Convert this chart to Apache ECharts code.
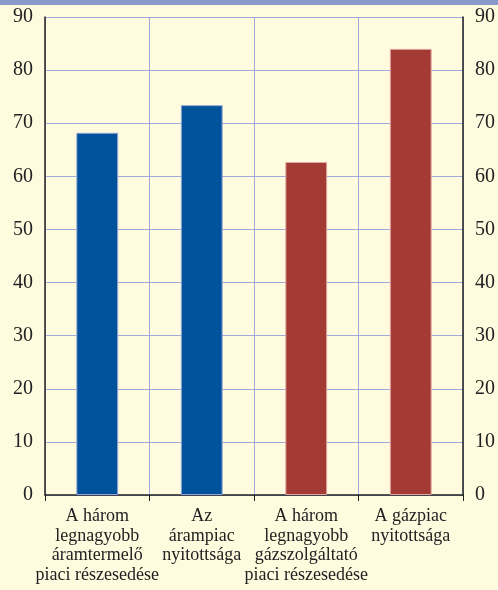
<!DOCTYPE html>
<html>
	<head>
		<meta charset="utf-8" />
		<title>Piaci részesedés és piacnyitás</title>
		<script src="https://cdn.jsdelivr.net/npm/echarts@6/dist/echarts.min.js"></script>
		<style>
			* {
				margin: 0;
				padding: 0;
				box-sizing: border-box;
			}
			body {
				background: #fffbdf;
			}
		</style>
	</head>
	<body>
		<div id="main" style="width: 498px; height: 590px"></div>
		<script>
			// adatok
			var categories = [
				'A három\nlegnagyobb\náramtermelő\npiaci részesedése',
				'Az\nárampiac\nnyitottsága',
				'A három\nlegnagyobb\ngázszolgáltató\npiaci részesedése',
				'A gázpiac\nnyitottsága',
			];
			var values = [68.2, 73.4, 62.7, 84.0];
			var barColors = ['#00529b', '#00529b', '#a33a33', '#a33a33'];
			var barBorders = ['#8fa6d6', '#8fa6d6', '#e0a8a0', '#e0a8a0'];

			var myChart = echarts.init(document.getElementById('main'));
			var font = 'Liberation Serif';
			var gridColor = '#9fa9da';

			var yAxisBase = {
				type: 'value',
				min: 0,
				max: 90,
				interval: 10,
				axisLine: {show: true, lineStyle: {color: '#222', width: 1.5}},
				axisTick: {show: false},
				axisLabel: {fontFamily: font, fontSize: 20, color: '#222', margin: 12},
				splitLine: {show: true, lineStyle: {color: gridColor, width: 1}},
			};

			var option = {
				backgroundColor: '#fffbdf',
				graphic: [
					{type: 'rect', shape: {x: 0, y: 0, width: 498, height: 5}, style: {fill: '#8a9bcb'}},
				],
				grid: {left: 45, right: 35, top: 17, bottom: 95},
				xAxis: {
					type: 'category',
					data: categories,
					offset: 3,
					axisLine: {show: true, lineStyle: {color: '#222', width: 1.5}},
					axisTick: {show: true, length: 6, lineStyle: {color: '#222'}},
					axisLabel: {
						fontFamily: font,
						fontSize: 18,
						lineHeight: 19.5,
						color: '#222',
						margin: 9,
						interval: 0,
					},
					splitLine: {show: true, lineStyle: {color: gridColor, width: 1}},
				},
				yAxis: [
					Object.assign({}, yAxisBase, {position: 'left'}),
					Object.assign({}, yAxisBase, {position: 'right', splitLine: {show: false}}),
				],
				series: [
					{
						type: 'bar',
						barWidth: '40%',
						data: values.map(function (v, i) {
							return {
								value: v,
								itemStyle: {color: barColors[i], borderColor: barBorders[i], borderWidth: 1},
							};
						}),
					},
				],
			};
			myChart.setOption(option);
		</script>
	</body>
</html>
